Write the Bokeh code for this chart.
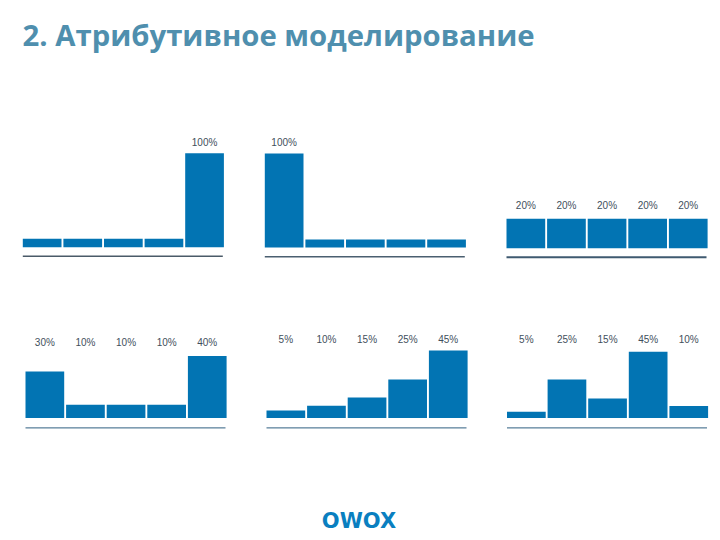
from bokeh.core.properties import value
from bokeh.embed import file_html
from bokeh.models import ColumnDataSource, Range1d
from bokeh.plotting import figure
from bokeh.resources import INLINE

title_text = "2. Атрибутивное моделирование"
logo_text = "OWOX"

# Bar heights, percent units of each panel
values_a = [9, 9, 9, 9, 100]
values_b = [100, 8.5, 8.5, 8.5, 8.5]
values_c = [20, 20, 20, 20, 20]
values_d = [30, 8.5, 8.5, 8.5, 40]
values_e = [5, 8.3, 13.7, 25.7, 45]
values_f = [4.3, 25.7, 13, 44.3, 8.1]

labels_a = ["", "", "", "", "100%"]
labels_b = ["100%", "", "", "", ""]
labels_c = ["20%", "20%", "20%", "20%", "20%"]
labels_d = ["30%", "10%", "10%", "10%", "40%"]
labels_e = ["5%", "10%", "15%", "25%", "45%"]
labels_f = ["5%", "25%", "15%", "45%", "10%"]

BLUE = "#0274b3"
TEXT = "#3f4f5c"
SANS = value('"Liberation Sans", sans-serif')
SLOT, BAR_W = 40.6, 38.7
L, R, T, B = 0, 720, 0, 540  # page pixels covered by the frame

# left edge, baseline, px per unit, label centre y, rule y, rule width, rule colour
panels = [
    (values_a, labels_a, 22.3, 246.7, 0.94, 142, 255.7, 1.5, "#4a5a68"),
    (values_b, labels_b, 264.3, 247.0, 0.94, 142, 256.2, 1.5, "#4a5f70"),
    (values_c, labels_c, 506.0, 247.7, 1.475, 205, 256.8, 2.0, "#3f5a70"),
    (values_d, labels_d, 25.0, 417.4, 1.55, 342, 427.4, 1.0, "#2f5f80"),
    (values_e, labels_e, 266.0, 417.6, 1.5, 339, 427.4, 1.0, "#2f5f80"),
    (values_f, labels_f, 506.5, 417.6, 1.5, 339, 427.4, 1.0, "#2f5f80"),
]

p = figure(
    width=R - L, height=B - T, output_backend="svg", toolbar_location=None,
    x_range=Range1d(L, R), y_range=Range1d(B, T), min_border=0,
    x_axis_type=None, y_axis_type=None, outline_line_color=None,
    background_fill_color="white", border_fill_color="white",
)
p.grid.visible = False

for n, (vals, labs, left, base, scale, label_y, rule_y, rule_w, rule_c) in enumerate(panels):
    xn, yn = f"x{n}", f"y{n}"
    c0 = left + BAR_W / 2
    p.extra_x_ranges[xn] = Range1d((L - c0) / SLOT, (R - c0) / SLOT)
    p.extra_y_ranges[yn] = Range1d((base - B) / scale, (base - T) / scale)
    idx = list(range(len(vals)))
    src = ColumnDataSource(dict(
        x=idx, top=vals, text=labs,
        label_at=[(base - label_y) / scale] * len(vals),
    ))
    p.vbar(x="x", top="top", bottom=0, width=BAR_W / SLOT, source=src,
           fill_color=BLUE, line_color=None, x_range_name=xn, y_range_name=yn)
    p.text(x="x", y="label_at", text="text", source=src, x_range_name=xn, y_range_name=yn,
           text_align="center", text_baseline="middle", text_color=TEXT,
           text_font=SANS, text_font_size="10px")
    rule = (base - rule_y) / scale
    p.line(x=[-BAR_W / 2 / SLOT, (200 - BAR_W / 2) / SLOT], y=[rule, rule],
           line_color=rule_c, line_width=rule_w, x_range_name=xn, y_range_name=yn)

p.text(x=[22], y=[34], text=[title_text], text_font=value('"Open Sans", sans-serif'), text_font_style="bold",
       text_font_size="29.3px", text_color="#4f8fae", text_baseline="middle")
p.text(x=[358.5], y=[520], text=[logo_text], text_font=value('"DejaVu Sans", sans-serif'), text_font_style="bold",
       text_font_size="21px", text_color="#0a7fc0", text_align="center", text_baseline="middle")

open("out.html", "w").write(file_html(p, INLINE))
